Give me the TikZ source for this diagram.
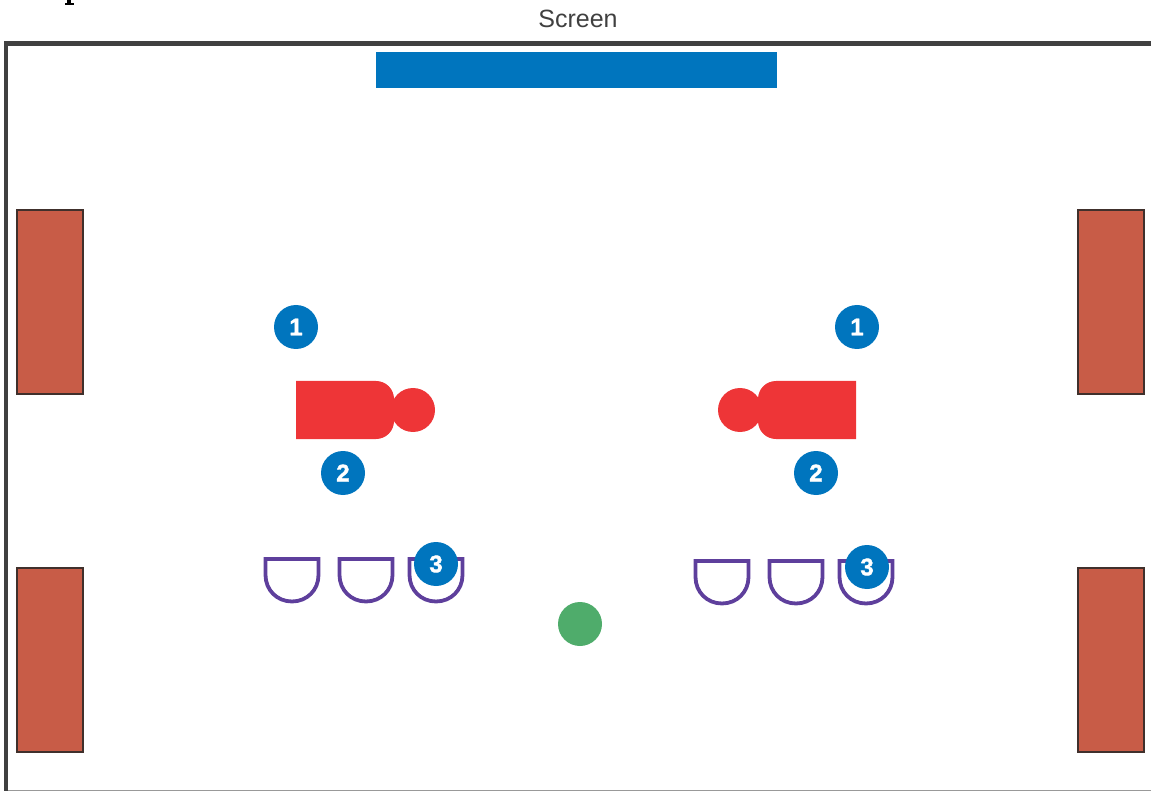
\documentclass[tikz,border=0pt]{standalone}
\usepackage{fontspec}
\setmainfont{Liberation Sans}
\newfontfamily\badgefont[FakeBold=1.6]{Liberation Sans Bold}
\definecolor{wallc}{HTML}{404040}
\definecolor{screenc}{HTML}{0075BE}
\definecolor{deskc}{HTML}{C85C47}
\definecolor{deskl}{HTML}{40302C}
\definecolor{personc}{HTML}{EE3537}
\definecolor{seatc}{HTML}{5E3F9C}
\definecolor{greenc}{HTML}{4FAC6B}
\tikzset{
  x=1pt,y=-1pt,
  desk/.style={draw=deskl,fill=deskc,line width=2pt,minimum width=66pt,minimum height=184pt,inner sep=0pt},
  badge/.style={circle,fill=screenc,text=white,minimum size=44pt,inner sep=0pt,font=\fontsize{24}{24}\badgefont},
  head/.style={circle,fill=personc,minimum size=44pt,inner sep=0pt},
  seat/.style={draw=seatc,line width=3.8pt,line join=miter},
  persona/.style={fill=personc},
}
\begin{document}
\begin{tikzpicture}
\useasboundingbox (0,0) rectangle (1151,791);
\begin{scope}
\clip (0,0) rectangle (1151,791);
% cropped heading fragment
\fill[black] (66.5,0) rectangle (71,3);
\fill[black] (64.5,3) rectangle (73.5,4.6);
% room
\draw[wallc,line width=4.6pt,line cap=rect] (6,795) -- (6,43.5) -- (1160,43.5);
\draw[black!40,line width=1.2pt] (8,790.4) -- (1151,790.4);
% screen
\node[fill=screenc,minimum width=401pt,minimum height=35.5pt,inner sep=0pt,anchor=north west] (screen) at (376,52.2) {};
\node[font=\fontsize{25}{25}\selectfont,text=black!75,anchor=base] (screenlabel) at (578,27.5) {Screen};
% desks
\node[desk] (d1) at (50,302) {};
\node[desk] (d2) at (50,660) {};
\node[desk] (d3) at (1110.5,302) {};
\node[desk] (d4) at (1110.5,660) {};
% presenters
\node[head] (hl) at (413,410) {};
\node[head] (hr) at (740,410) {};
\fill[persona] (296,381) -- (376,381) .. controls (386,381) and (394,389) .. (394,399) -- (394,421) .. controls (394,431) and (386,439) .. (376,439) -- (296,439) -- cycle;
\fill[persona] (856,381) -- (776,381) .. controls (766,381) and (758,389) .. (758,399) -- (758,421) .. controls (758,431) and (766,439) .. (776,439) -- (856,439) -- cycle;
% seats
\foreach \sx/\sy in {292/559,366/559,436/559,722/561,796/561,866/561}{
  \draw[seat] (\sx-26.5,\sy) -- (\sx+26.5,\sy) -- (\sx+26.5,\sy+16) .. controls (\sx+26.5,\sy+31) and (\sx+15,\sy+42.5) .. (\sx,\sy+42.5) .. controls (\sx-15,\sy+42.5) and (\sx-26.5,\sy+31) .. (\sx-26.5,\sy+16) -- cycle;
}
% badges
\node[badge] (b1l) at (296,327) {1};
\node[badge] (b1r) at (857,327) {1};
\node[badge] (b2l) at (343,473) {2};
\node[badge] (b2r) at (816,473) {2};
\node[badge] (b3l) at (436,564) {3};
\node[badge] (b3r) at (867,567) {3};
% audience member
\node[circle,fill=greenc,minimum size=44pt,inner sep=0pt] (viewer) at (580,624) {};
\end{scope}
\end{tikzpicture}
\end{document}
